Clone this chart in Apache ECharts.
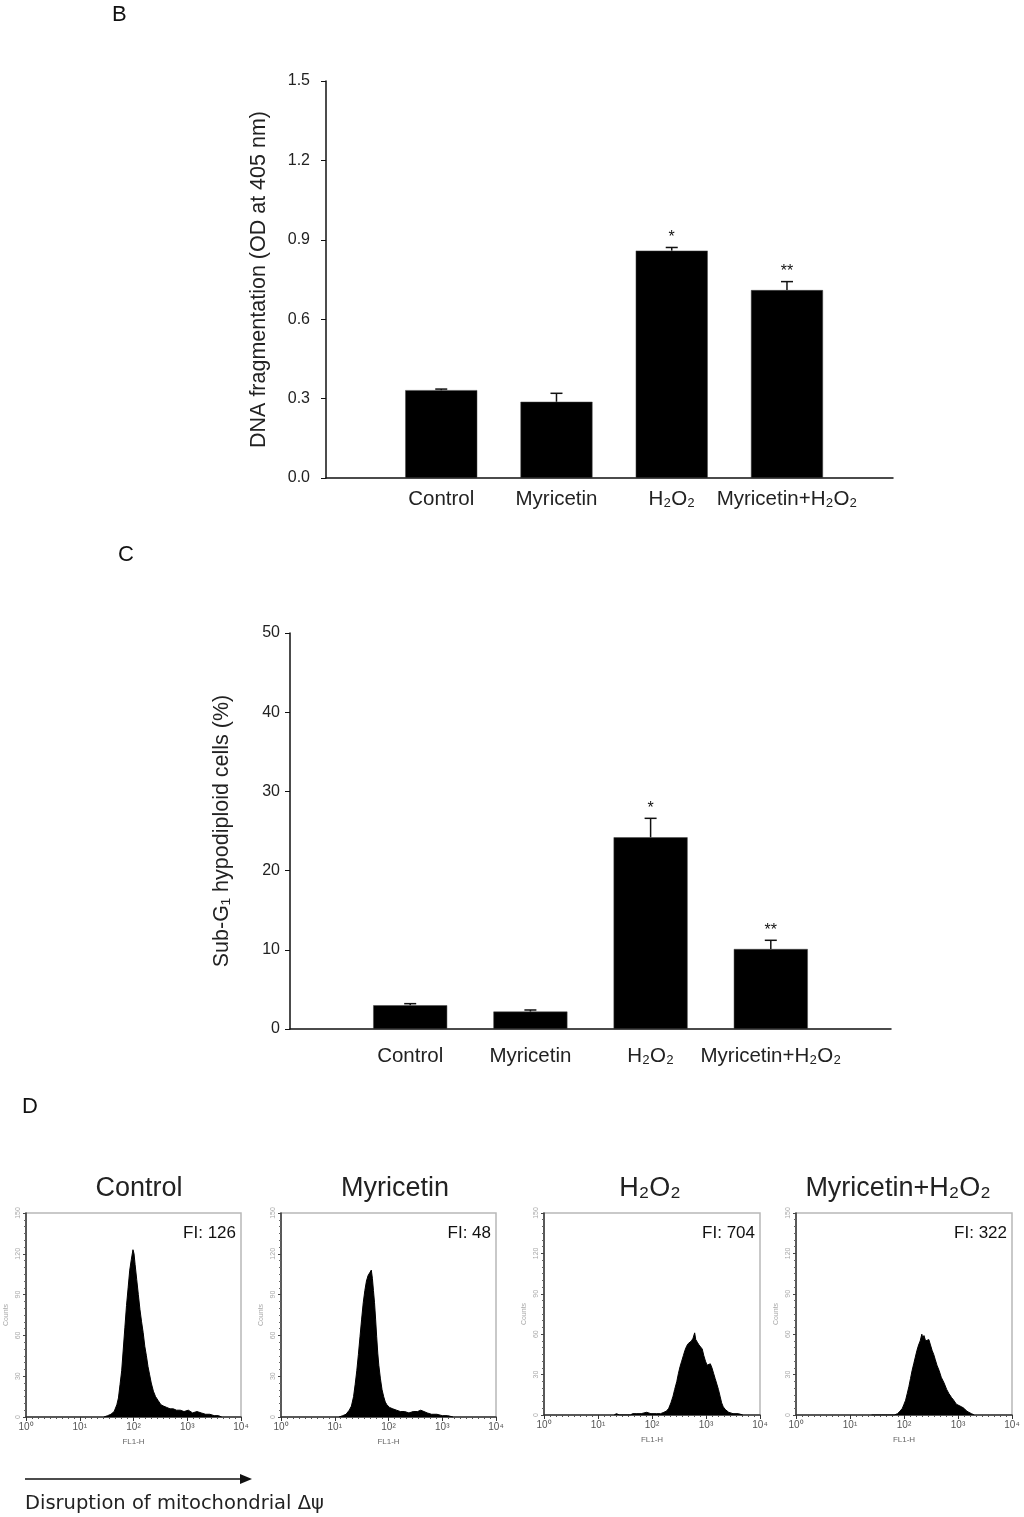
<!DOCTYPE html>
<html>
<head>
<meta charset="utf-8">
<script src="https://cdn.jsdelivr.net/npm/echarts@6/dist/echarts.min.js"></script>
<style>
html,body{margin:0;padding:0;background:#fff;}
#chart{width:1024px;height:1517px;}
</style>
</head>
<body>
<div id="chart"></div>
<script>
// ---------- data ----------
const categories = ['Control', 'Myricetin', 'H\u2082O\u2082', 'Myricetin+H\u2082O\u2082'];

const dnaTicks = [0.0, 0.3, 0.6, 0.9, 1.2, 1.5];
const dnaFrag = [0.332, 0.288, 0.859, 0.710];
const dnaFragErr = [0.004, 0.032, 0.012, 0.032];
const dnaStars = ['', '', '*', '**'];

const subTicks = [0, 10, 20, 30, 40, 50];
const subG1 = [3.0, 2.2, 24.2, 10.1];
const subG1Err = [0.2, 0.2, 2.4, 1.1];
const subStars = ['', '', '*', '**'];

const histTitles = ['Control', 'Myricetin', 'H\u2082O\u2082', 'Myricetin+H\u2082O\u2082'];
const histFI = ['FI: 126', 'FI: 48', 'FI: 704', 'FI: 322'];
const histCountTicks = [0, 30, 60, 90, 120, 150];
const histDecadeTicks = [0, 1, 2, 3, 4];

// [log10(FL1-H), counts]
const histControl = [[1.45,0],[1.52,1],[1.58,2],[1.64,4],[1.69,9],[1.72,14],[1.75,24],[1.78,34],[1.81,50],[1.84,66],[1.87,82],[1.90,95],[1.93,108],[1.96,116],[1.99,123],[2.01,120],[2.03,112],[2.06,101],[2.09,90],[2.12,79],[2.15,70],[2.18,62],[2.21,52],[2.24,45],[2.27,37],[2.30,31],[2.33,25],[2.37,19],[2.41,15],[2.46,12],[2.51,9],[2.56,8],[2.62,7],[2.68,6],[2.71,7],[2.74,6],[2.80,5],[2.87,5],[2.94,4],[3.02,5],[3.10,3],[3.18,4],[3.26,3],[3.34,2],[3.42,2],[3.50,1],[3.58,1],[3.64,0]];
const histMyricetin = [[1.08,0],[1.15,1],[1.21,2],[1.27,5],[1.31,8],[1.35,15],[1.38,24],[1.41,34],[1.44,46],[1.47,59],[1.50,72],[1.53,84],[1.56,93],[1.59,100],[1.62,104],[1.65,106],[1.68,108],[1.70,102],[1.72,93],[1.74,84],[1.76,72],[1.78,59],[1.80,47],[1.82,38],[1.85,28],[1.88,20],[1.91,15],[1.94,11],[1.97,9],[2.02,7],[2.08,6],[2.15,5],[2.22,4],[2.30,4],[2.38,3],[2.46,4],[2.54,4],[2.60,5],[2.66,4],[2.72,3],[2.80,2],[2.90,2],[3.00,1],[3.10,1],[3.20,0]];
const histH2O2 = [[1.30,0],[1.34,1],[1.40,0],[1.60,0],[1.64,1],[1.72,1],[1.80,1],[1.90,2],[1.98,1],[2.08,1],[2.16,1],[2.22,2],[2.27,3],[2.31,5],[2.35,9],[2.39,14],[2.42,19],[2.46,25],[2.49,31],[2.52,36],[2.55,40],[2.58,44],[2.61,48],[2.64,51],[2.67,53],[2.70,54],[2.73,55],[2.76,57],[2.79,61],[2.81,56],[2.84,54],[2.87,52],[2.90,52],[2.93,49],[2.96,44],[2.99,40],[3.02,37],[3.05,36],[3.08,38],[3.11,35],[3.14,31],[3.17,27],[3.20,23],[3.23,19],[3.26,14],[3.29,9],[3.32,6],[3.36,4],[3.42,2],[3.50,1],[3.60,1],[3.68,0]];
const histMyrH2O2 = [[1.40,0],[1.42,1],[1.45,0],[1.58,0],[1.60,1],[1.63,0],[1.82,0],[1.88,1],[1.93,3],[1.97,5],[2.00,8],[2.03,11],[2.06,16],[2.09,21],[2.12,27],[2.15,33],[2.18,38],[2.21,43],[2.24,48],[2.27,52],[2.30,55],[2.33,60],[2.35,57],[2.37,59],[2.40,55],[2.43,56],[2.46,56],[2.49,52],[2.52,48],[2.55,45],[2.58,41],[2.61,37],[2.65,33],[2.69,28],[2.74,24],[2.79,19],[2.83,16],[2.88,13],[2.92,11],[2.97,8],[3.02,7],[3.07,6],[3.11,5],[3.16,3],[3.20,2],[3.25,1],[3.30,0]];
const histSeries = [histControl, histMyricetin, histH2O2, histMyrH2O2];

// ---------- layout ----------
const FONT = '"Liberation Sans", Arial, sans-serif';
const chart = echarts.init(document.getElementById('chart'), null, {renderer: 'canvas'});

const histGrids = [
  {left: 26, top: 1213, width: 215, height: 204},
  {left: 281, top: 1213, width: 215, height: 204},
  {left: 544, top: 1213, width: 216, height: 202},
  {left: 796, top: 1213, width: 216, height: 202}
];
const histTitleX = [139, 395, 650, 898];

const grids = [
  {left: 326, top: 81, width: 567, height: 397},
  {left: 290, top: 633, width: 601, height: 396}
].concat(histGrids.map(g => Object.assign({show: true, borderColor: '#b8b8b8', borderWidth: 1.5, backgroundColor: '#fff'}, g)));

function barXAxis(idx, max, margin) {
  return {
    type: 'value', gridIndex: idx, min: 0, max: max, interval: 1,
    axisLine: {show: true, lineStyle: {color: '#111', width: 1.5}},
    axisTick: {show: false}, splitLine: {show: false},
    axisLabel: {
      margin: margin, fontFamily: FONT, fontSize: 20.5, color: '#222',
      formatter: v => (v >= 1 && v <= categories.length && Number.isInteger(v)) ? categories[v - 1] : ''
    }
  };
}
function barYAxis(idx, ticks, name, gap, digits, margin) {
  return {
    type: 'value', gridIndex: idx, min: ticks[0], max: ticks[ticks.length - 1],
    interval: ticks[1] - ticks[0],
    name: name, nameLocation: 'middle', nameGap: gap, nameRotate: 90,
    nameTextStyle: {fontFamily: FONT, fontSize: 21.5, color: '#222'},
    axisLine: {show: true, lineStyle: {color: '#111', width: 1.5}},
    axisTick: {show: true, length: 5, lineStyle: {color: '#111'}},
    splitLine: {show: false},
    axisLabel: {margin: margin, fontFamily: FONT, fontSize: 16, color: '#222',
      formatter: v => v.toFixed(digits)}
  };
}

const sup = ['\u2070', '\u00b9', '\u00b2', '\u00b3', '\u2074'];
const xAxes = [barXAxis(0, 4.92, 11), barXAxis(1, 5.0, 17)];
const yAxes = [
  barYAxis(0, dnaTicks, 'DNA fragmentation (OD at 405 nm)', 56, 1, 16),
  barYAxis(1, subTicks, 'Sub-G\u2081 hypodiploid cells (%)', 57, 0, 10)
];
histGrids.forEach((g, i) => {
  xAxes.push({
    type: 'value', gridIndex: i + 2, min: histDecadeTicks[0], max: histDecadeTicks[histDecadeTicks.length - 1], interval: 1,
    name: 'FL1-H', nameLocation: 'middle', nameGap: 21,
    nameTextStyle: {fontFamily: FONT, fontSize: 8, color: '#666'},
    axisLine: {show: true, lineStyle: {color: '#333', width: 1.5}},
    axisTick: {show: true, length: 4, lineStyle: {color: '#333'}},
    minorTick: {show: true, splitNumber: 9, length: 2, lineStyle: {color: '#555'}},
    splitLine: {show: false},
    axisLabel: {margin: 5, fontFamily: FONT, fontSize: 10, color: '#555',
      formatter: v => '10' + sup[v]}
  });
  yAxes.push({
    type: 'value', gridIndex: i + 2, min: histCountTicks[0], max: histCountTicks[histCountTicks.length - 1], interval: 30,
    name: 'Counts', nameLocation: 'middle', nameGap: 16, nameRotate: 90,
    nameTextStyle: {fontFamily: FONT, fontSize: 7, color: '#aaa'},
    axisLine: {show: true, lineStyle: {color: '#333', width: 1.5}},
    axisTick: {show: true, length: 3, lineStyle: {color: '#444'}},
    minorTick: {show: true, splitNumber: 6, length: 2, lineStyle: {color: '#666'}},
    splitLine: {show: false},
    axisLabel: {margin: 4, fontFamily: FONT, fontSize: 7, color: '#aaa', rotate: 90}
  });
});

function errSeries(idx, vals, errs, stars, capHalf) {
  return {
    type: 'custom', xAxisIndex: idx, yAxisIndex: idx, z: 5,
    data: vals.map((v, i) => [i + 1, v, errs[i]]),
    renderItem: function (params, api) {
      const x = api.value(0), v = api.value(1), e = api.value(2);
      const p0 = api.coord([x, v]);
      const p1 = api.coord([x, v + e]);
      const star = stars[params.dataIndex];
      const children = [
        {type: 'line', shape: {x1: p0[0], y1: p0[1], x2: p1[0], y2: p1[1]}, style: {stroke: '#111', lineWidth: 1.5}},
        {type: 'line', shape: {x1: p1[0] - capHalf, y1: p1[1], x2: p1[0] + capHalf, y2: p1[1]}, style: {stroke: '#111', lineWidth: 1.5}}
      ];
      if (star) {
        children.push({type: 'text', x: p1[0], y: p1[1] - 2,
          style: {text: star, fill: '#111', font: '16px ' + FONT, align: 'center', verticalAlign: 'bottom'}});
      }
      return {type: 'group', children: children};
    }
  };
}

const series = [
  {type: 'bar', xAxisIndex: 0, yAxisIndex: 0, barWidth: 72,
    itemStyle: {color: '#000', borderColor: '#444', borderWidth: 0.5},
    data: dnaFrag.map((v, i) => [i + 1, v])},
  errSeries(0, dnaFrag, dnaFragErr, dnaStars, 6),
  {type: 'bar', xAxisIndex: 1, yAxisIndex: 1, barWidth: 74,
    itemStyle: {color: '#000', borderColor: '#444', borderWidth: 0.5},
    data: subG1.map((v, i) => [i + 1, v])},
  errSeries(1, subG1, subG1Err, subStars, 6)
];
histSeries.forEach((d, i) => {
  series.push({
    type: 'line', xAxisIndex: i + 2, yAxisIndex: i + 2, data: d,
    symbol: 'none', smooth: false,
    lineStyle: {color: '#000', width: 1},
    areaStyle: {color: '#000', opacity: 1}
  });
});

const graphic = [
  {type: 'text', left: 112, top: 4, style: {text: 'B', font: '22px ' + FONT, fill: '#111'}},
  {type: 'text', left: 118, top: 544, style: {text: 'C', font: '22px ' + FONT, fill: '#111'}},
  {type: 'text', left: 22, top: 1096, style: {text: 'D', font: '22px ' + FONT, fill: '#111'}},
  {type: 'line', shape: {x1: 25, y1: 1479, x2: 242, y2: 1479}, style: {stroke: '#111', lineWidth: 1.5}},
  {type: 'polygon', shape: {points: [[240, 1474], [252, 1479], [240, 1484]]}, style: {fill: '#111'}},
  {type: 'text', x: 25, y: 1504, style: {text: 'Disruption of mitochondrial \u0394\u03c8', font: '19.5px "DejaVu Sans", sans-serif', fill: '#222', verticalAlign: 'middle'}}
];
histTitles.forEach((t, i) => {
  graphic.push({type: 'text', x: histTitleX[i], y: 1189,
    style: {text: t, font: '27px ' + FONT, fill: '#222', align: 'center', verticalAlign: 'middle'}});
  const g = histGrids[i];
  graphic.push({type: 'text', x: g.left + g.width - 5, y: 1233,
    style: {text: histFI[i], font: '17px ' + FONT, fill: '#111', align: 'right', verticalAlign: 'middle'}});
});

chart.setOption({
  backgroundColor: '#fff',
  animation: false,
  grid: grids,
  xAxis: xAxes,
  yAxis: yAxes,
  series: series,
  graphic: graphic
});
</script>
</body>
</html>
